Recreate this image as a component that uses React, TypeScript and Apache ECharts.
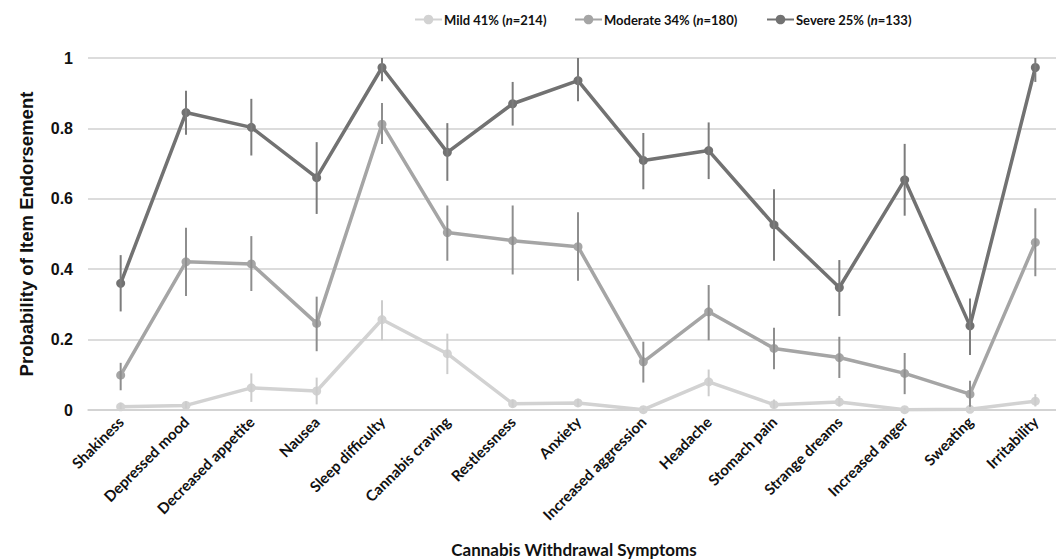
import React, { useEffect, useRef } from "react";
import * as echarts from "echarts";

const categories = [
  "Shakiness", "Depressed mood", "Decreased appetite", "Nausea", "Sleep difficulty",
  "Cannabis craving", "Restlessness", "Anxiety", "Increased aggression", "Headache",
  "Stomach pain", "Strange dreams", "Increased anger", "Sweating", "Irritability",
];

const yTicks = [0, 0.2, 0.4, 0.6, 0.8, 1];

const mild = [0.009, 0.013, 0.063, 0.054, 0.257, 0.16, 0.018, 0.02, 0.001, 0.08, 0.015, 0.023, 0.001, 0.002, 0.025];
const mildLow = [0.002, 0.005, 0.023, 0.016, 0.198, 0.102, 0.008, 0.009, 0.0, 0.039, 0.005, 0.01, 0.0, 0.0, 0.01];
const mildHigh = [0.02, 0.025, 0.104, 0.092, 0.312, 0.217, 0.03, 0.032, 0.005, 0.115, 0.03, 0.04, 0.005, 0.008, 0.045];

const moderate = [0.099, 0.421, 0.415, 0.246, 0.812, 0.504, 0.481, 0.464, 0.137, 0.279, 0.175, 0.149, 0.104, 0.045, 0.476];
const moderateLow = [0.056, 0.324, 0.338, 0.167, 0.756, 0.424, 0.385, 0.367, 0.078, 0.198, 0.116, 0.091, 0.045, 0.009, 0.38];
const moderateHigh = [0.134, 0.518, 0.494, 0.322, 0.872, 0.581, 0.581, 0.562, 0.194, 0.355, 0.234, 0.208, 0.162, 0.083, 0.573];

const severe = [0.36, 0.845, 0.803, 0.66, 0.973, 0.732, 0.87, 0.936, 0.709, 0.737, 0.526, 0.348, 0.654, 0.239, 0.973];
const severeLow = [0.28, 0.782, 0.723, 0.557, 0.934, 0.651, 0.808, 0.877, 0.627, 0.656, 0.424, 0.267, 0.552, 0.156, 0.932];
const severeHigh = [0.44, 0.907, 0.884, 0.761, 1.0, 0.815, 0.932, 1.0, 0.787, 0.817, 0.627, 0.426, 0.756, 0.317, 1.0];

const groups = [
  { name: "Mild 41% (n=214)", label: "Mild 41%", n: "214", values: mild, low: mildLow, high: mildHigh, color: "#d2d2d2", barColor: "#cccccc" },
  { name: "Moderate 34% (n=180)", label: "Moderate 34%", n: "180", values: moderate, low: moderateLow, high: moderateHigh, color: "#a5a5a5", barColor: "#8e8e8e" },
  { name: "Severe 25% (n=133)", label: "Severe 25%", n: "133", values: severe, low: severeLow, high: severeHigh, color: "#727272", barColor: "#7c7c7c" },
];

const legendLefts = [414, 574, 766];

export default function App() {
  const ref = useRef<HTMLDivElement>(null);
  useEffect(() => {
    document.body.style.margin = "0";
    document.body.style.overflow = "hidden";
    document.documentElement.style.overflow = "hidden";
    if (!ref.current) return;
    const chart = echarts.init(ref.current, null, { renderer: "svg" });
    const series: any[] = [];
    groups.forEach((g, gi) => {
      series.push({
        name: g.name,
        type: "line",
        data: g.values,
        symbol: "circle",
        symbolSize: 9,
        lineStyle: { color: g.color, width: 3.5 },
        itemStyle: { color: g.color },
        z: 2 + gi * 2,
      });
      series.push({
        name: g.name + " error",
        type: "custom",
        data: categories.map((_, i) => [i, g.low[i], g.high[i]]),
        renderItem: (params: any, api: any) => {
          const i = api.value(0);
          const p1 = api.coord([i, api.value(1)]);
          const p2 = api.coord([i, api.value(2)]);
          return {
            type: "line",
            shape: { x1: p1[0], y1: p1[1], x2: p2[0], y2: p2[1] },
            style: { stroke: g.barColor, lineWidth: 2 },
          };
        },
        encode: { x: 0, y: [1, 2] },
        silent: true,
        z: 3 + gi * 2,
      });
    });
    const legendMap: Record<string, any> = {};
    groups.forEach((g) => (legendMap[g.name] = g));
    const legends = groups.map((g, gi) => ({
      data: [g.name],
      left: legendLefts[gi],
      top: 13,
      itemWidth: 27,
      itemHeight: 12,
      padding: 0,
      formatter: (name: string) => {
        const it = legendMap[name];
        return `{b|${it.label} (}{i|n}{b|=${it.n})}`;
      },
      textStyle: {
        padding: [0, 0, 0, -3],
        rich: {
          b: { fontFamily: "Lato", fontWeight: "bold", fontSize: 13, color: "#111" },
          i: { fontFamily: "Lato", fontWeight: "bold", fontStyle: "italic", fontSize: 13, color: "#111" },
        },
      },
    }));
    chart.setOption({
      animation: false,
      backgroundColor: "#ffffff",
      legend: legends,
      grid: { left: 88, width: 980, top: 58, bottom: 150, containLabel: false, outerBoundsMode: "none" },
      xAxis: {
        type: "category",
        data: categories,
        boundaryGap: true,
        name: "Cannabis Withdrawal Symptoms",
        nameLocation: "middle",
        nameGap: 131,
        nameTextStyle: { fontFamily: "Lato", fontWeight: "bold", fontSize: 17, color: "#111", padding: [0, 8, 0, 0] },
        axisLine: { show: true, lineStyle: { color: "#d0d0d0", width: 1.5 } },
        axisTick: { show: false },
        axisLabel: {
          rotate: 45,
          interval: 0,
          margin: 9,
          fontFamily: "Lato",
          fontWeight: "bold",
          fontSize: 15,
          color: "#111",
        },
      },
      yAxis: {
        type: "value",
        min: 0,
        max: 1,
        interval: 0.2,
        name: "Probability of Item Endorsement",
        nameLocation: "middle",
        nameGap: 52,
        nameTextStyle: { fontFamily: "'Liberation Sans', Arial, sans-serif", fontWeight: "bold", fontSize: 18.5, color: "#111" },
        axisLine: { show: false },
        axisTick: { show: false },
        splitLine: { lineStyle: { color: "#d0d0d0", width: 1.5 } },
        axisLabel: {
          margin: 15,
          fontFamily: "'Liberation Sans', Arial, sans-serif",
          fontWeight: "bold",
          fontSize: 16,
          color: "#111",
          formatter: (v: number) => {
            const t = yTicks.find((x) => Math.abs(x - v) < 1e-6);
            return t === undefined ? "" : String(t);
          },
        },
      },
      series,
    });
    return () => chart.dispose();
  }, []);
  return <div ref={ref} style={{ width: 1056, height: 560 }} />;
}
